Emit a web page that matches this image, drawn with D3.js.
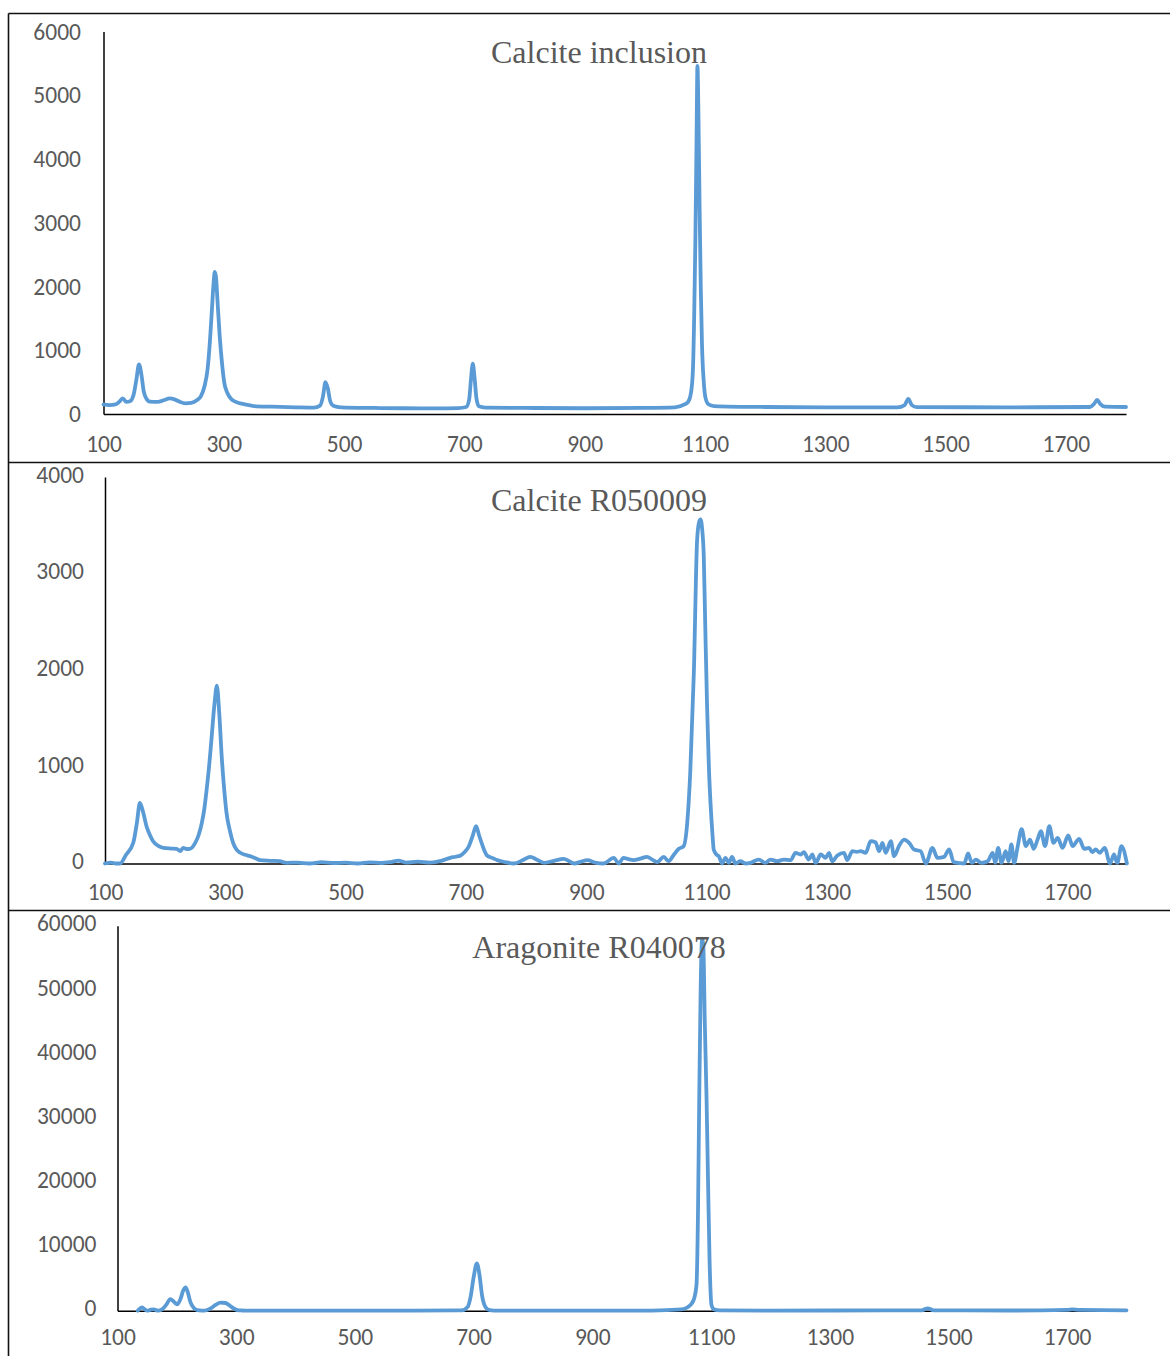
<!DOCTYPE html>
<html>
<head>
<meta charset="utf-8">
<script src="https://cdn.jsdelivr.net/npm/d3@7"></script>
<style>
  body { margin: 0; background: #fff; }
  svg { display: block; }
  .tick text { font-family: Carlito, Calibri, Lato, sans-serif; font-size: 23.5px; fill: #595959; }
  .title { font-family: "Liberation Serif", "Times New Roman", serif; font-size: 32px; fill: #595959; }
</style>
</head>
<body>
<div id="chart"></div>
<script>
// Raman shift (cm-1) and intensity

// Calcite inclusion
const incShift = [100, 110, 120, 126, 132, 138, 144, 150, 155, 159, 163, 167, 172, 177, 190, 200, 210, 218, 226, 236,
  246, 255, 262, 268, 273, 277, 280, 283, 285, 287, 290, 293, 297, 301, 306, 312, 320, 335, 350, 380,
  420, 450, 460, 465, 469, 473, 477, 482, 495, 550, 600, 650, 690, 703, 708, 711, 714, 717, 720, 724,
  735, 800, 900, 1000, 1050, 1066, 1072, 1077, 1080, 1082, 1084, 1086, 1087.5, 1089, 1091, 1093, 1095, 1098, 1101, 1106,
  1115, 1200, 1300, 1420, 1432, 1438, 1444, 1452, 1600, 1740, 1747, 1752, 1757, 1765, 1800];
const incValue = [150, 140, 150, 190, 245, 190, 200, 300, 560, 780, 620, 350, 230, 195, 190, 215, 245, 230, 195, 168,
  175, 215, 280, 440, 700, 1150, 1600, 2050, 2230, 2150, 1700, 1250, 800, 480, 330, 240, 190, 150, 125, 115,
  105, 100, 130, 280, 500, 400, 200, 130, 105, 95, 90, 88, 92, 110, 230, 550, 790, 560, 250, 120,
  100, 95, 90, 95, 105, 150, 190, 350, 700, 1500, 2700, 4300, 5460, 4800, 3300, 2000, 1100, 500, 250, 150,
  125, 110, 105, 105, 140, 235, 140, 108, 105, 110, 160, 220, 160, 115, 110];

// Calcite R050009
const calShift = [100, 110, 118, 125, 135, 147, 153, 158, 163, 169, 175, 180, 188, 197, 210, 219, 225, 230, 236, 241,
  250, 256, 261, 265, 269, 273, 277, 282, 286, 290, 294, 298, 302, 308, 313, 318, 325, 333, 341, 350,
  358, 375, 391, 397, 402, 420, 440, 460, 480, 500, 520, 540, 560, 575, 588, 600, 620, 640, 660, 674,
  683, 691, 698, 705, 711, 717, 722, 727, 731, 735, 745, 752, 765, 780, 795, 807, 818, 830, 845, 863,
  880, 892, 902, 915, 929, 946, 954, 962, 970, 979, 990, 1001, 1010, 1018, 1029, 1037, 1046, 1054, 1062, 1068,
  1073, 1079, 1084.5, 1088, 1090, 1093, 1095.5, 1098, 1101, 1104, 1107, 1110, 1112, 1117, 1120.5, 1126, 1131.5, 1137, 1142.6, 1148,
  1156.5, 1165, 1173, 1187, 1198, 1206.5, 1217.5, 1228.6, 1240, 1248, 1256.5, 1262, 1270, 1276, 1281.5, 1290, 1298, 1303.7, 1309, 1317.6,
  1328.6, 1334, 1342.6, 1350, 1356.5, 1364.7, 1373, 1381, 1387, 1392.5, 1398, 1406.5, 1412, 1420, 1428.6, 1437, 1445, 1456, 1464.7, 1475.7,
  1484, 1495, 1503.5, 1511, 1520, 1528.6, 1535, 1541, 1548, 1556.5, 1567.6, 1576, 1580, 1585, 1590.5, 1597.5, 1602, 1607, 1611.5, 1617,
  1624, 1631, 1638, 1644, 1650.5, 1656, 1663, 1670, 1677, 1684, 1692, 1701.5, 1708.6, 1719.6, 1728, 1736, 1741.6, 1747, 1754, 1762,
  1771, 1777.6, 1783, 1790, 1799];
const calValue = [0, 10, 0, 0, 90, 214, 420, 628, 540, 386, 290, 231, 185, 162, 155, 152, 128, 162, 150, 152,
  214, 300, 421, 560, 766, 1000, 1284, 1650, 1840, 1550, 1111, 780, 525, 330, 214, 150, 111, 90, 76, 55,
  35, 28, 24, 12, 7, 10, 0, 15, 5, 10, 0, 12, 5, 15, 30, 10, 20, 10, 30, 59,
  70, 83, 120, 179, 280, 386, 290, 197, 130, 83, 55, 35, 15, 0, 35, 69, 40, 7, 25, 48,
  0, 20, 35, 10, 0, 59, 0, 59, 45, 35, 50, 69, 40, 14, 69, 24, 93, 152, 179, 421,
  939, 1974, 3355, 3540, 3562, 3450, 3182, 2450, 1629, 1000, 593, 300, 145, 90, 76, 0, 59, 7, 69, 0,
  24, 0, 7, 41, 7, 41, 24, 41, 35, 111, 93, 117, 41, 93, 7, 93, 59, 111, 24, 83,
  111, 35, 128, 120, 128, 111, 231, 221, 128, 214, 111, 231, 76, 180, 248, 214, 145, 128, 0, 162,
  59, 69, 145, 14, 5, 0, 104, 7, 41, 7, 24, 111, 7, 162, 7, 128, 24, 197, 7, 162,
  356, 180, 248, 152, 248, 334, 180, 386, 214, 266, 162, 290, 180, 255, 152, 162, 117, 145, 111, 162,
  0, 93, 7, 180, 0];

// Aragonite R040078
const araShift = [134, 141.6, 146, 150, 156, 161, 168, 175, 182, 189, 195, 200.7, 206, 211, 214.7, 218, 223, 228, 231.5, 238,
  245.5, 252, 259.7, 266, 273.7, 282, 290.6, 296, 302, 310, 318.7, 400, 500, 600, 680, 690, 695, 700, 705.5, 710,
  714, 718.6, 725, 735, 800, 900, 1000, 1050, 1060.5, 1068, 1071.7, 1075.5, 1078, 1080, 1082.5, 1085, 1087, 1089.5, 1092.5, 1095,
  1097.5, 1100.8, 1105, 1115, 1200, 1300, 1400, 1455, 1465, 1475, 1600, 1700, 1709, 1720, 1800];
const araValue = [0, 530, 200, 0, 150, 207, 0, 200, 900, 1818, 1400, 987, 1800, 3200, 3645, 3000, 1300, 500, 200, 50,
  0, 150, 530, 950, 1247, 1200, 685, 350, 104, 30, 0, 0, 20, 10, 50, 600, 2200, 5200, 7380, 5500,
  2500, 800, 150, 20, 0, 10, 20, 200, 530, 1200, 1930, 4000, 15000, 32000, 50000, 58000, 57000, 45000, 32830, 20000,
  8000, 890, 200, 50, 20, 30, 40, 60, 370, 60, 30, 120, 200, 120, 60];

const xTicks = [100, 300, 500, 700, 900, 1100, 1300, 1500, 1700];
const titles = ["Calcite inclusion", "Calcite R050009", "Aragonite R040078"];
const yMaxes = [6000, 4000, 60000];
const yTickSteps = [1000, 1000, 10000];

const W = 1170, H = 1356;
const svg = d3.select("#chart").append("svg").attr("width", W).attr("height", H);

// frame round the three panels
const frame = svg.append("g").attr("stroke", "#111").attr("stroke-width", 1.6);
frame.append("line").attr("x1", 8.5).attr("x2", W).attr("y1", 13.5).attr("y2", 13.5);
frame.append("line").attr("x1", 8.5).attr("x2", W).attr("y1", 462.5).attr("y2", 462.5);
frame.append("line").attr("x1", 8.5).attr("x2", W).attr("y1", 910.5).attr("y2", 910.5);
frame.append("line").attr("x1", 8.5).attr("x2", 8.5).attr("y1", 13.5).attr("y2", H);

const panels = [
  { shift: incShift, value: incValue, left: 103.5, right: 1126, top: 31.5, bottom: 414, yPad: 22.5, xPad: 21, titleY: 63 },
  { shift: calShift, value: calValue, left: 105, right: 1127.5, top: 477, bottom: 863.5, yPad: 21, xPad: 19.5, titleY: 511 },
  { shift: araShift, value: araValue, left: 117.5, right: 1126.5, top: 925.7, bottom: 1310.7, yPad: 21, xPad: 18, titleY: 958 }
];

panels.forEach((p, i) => {
  const x = d3.scaleLinear().domain([100, 1800]).range([p.left, p.right]);
  const y = d3.scaleLinear().domain([0, yMaxes[i]]).range([p.bottom, p.top]);
  const g = svg.append("g");

  const yAxis = g.append("g")
    .attr("transform", `translate(${p.left},0)`)
    .call(d3.axisLeft(y).tickValues(d3.range(0, yMaxes[i] + 1, yTickSteps[i])).tickSize(0).tickPadding(p.yPad).tickFormat(d3.format("d")));
  yAxis.select(".domain").attr("stroke", "#000").attr("stroke-width", 1.5);
  if (i > 0) yAxis.selectAll(".tick text").attr("dy", "0.22em");

  const xAxis = g.append("g")
    .attr("transform", `translate(0,${p.bottom})`)
    .call(d3.axisBottom(x).tickValues(xTicks).tickSize(0).tickPadding(p.xPad).tickFormat(d3.format("d")));
  xAxis.select(".domain").attr("stroke", "#000").attr("stroke-width", 1.5);

  const pts = p.shift.map((s, k) => [s, p.value[k]]);
  g.append("path")
    .datum(pts)
    .attr("fill", "none")
    .attr("stroke", "#5B9BD5")
    .attr("stroke-width", 3.8)
    .attr("stroke-linejoin", "round")
    .attr("stroke-linecap", "round")
    .attr("d", d3.line().x(d => x(d[0])).y(d => y(d[1])).curve(d3.curveMonotoneX));

  g.append("text")
    .attr("class", "title")
    .attr("x", 599)
    .attr("y", p.titleY)
    .attr("text-anchor", "middle")
    .text(titles[i]);
});
</script>
</body>
</html>
